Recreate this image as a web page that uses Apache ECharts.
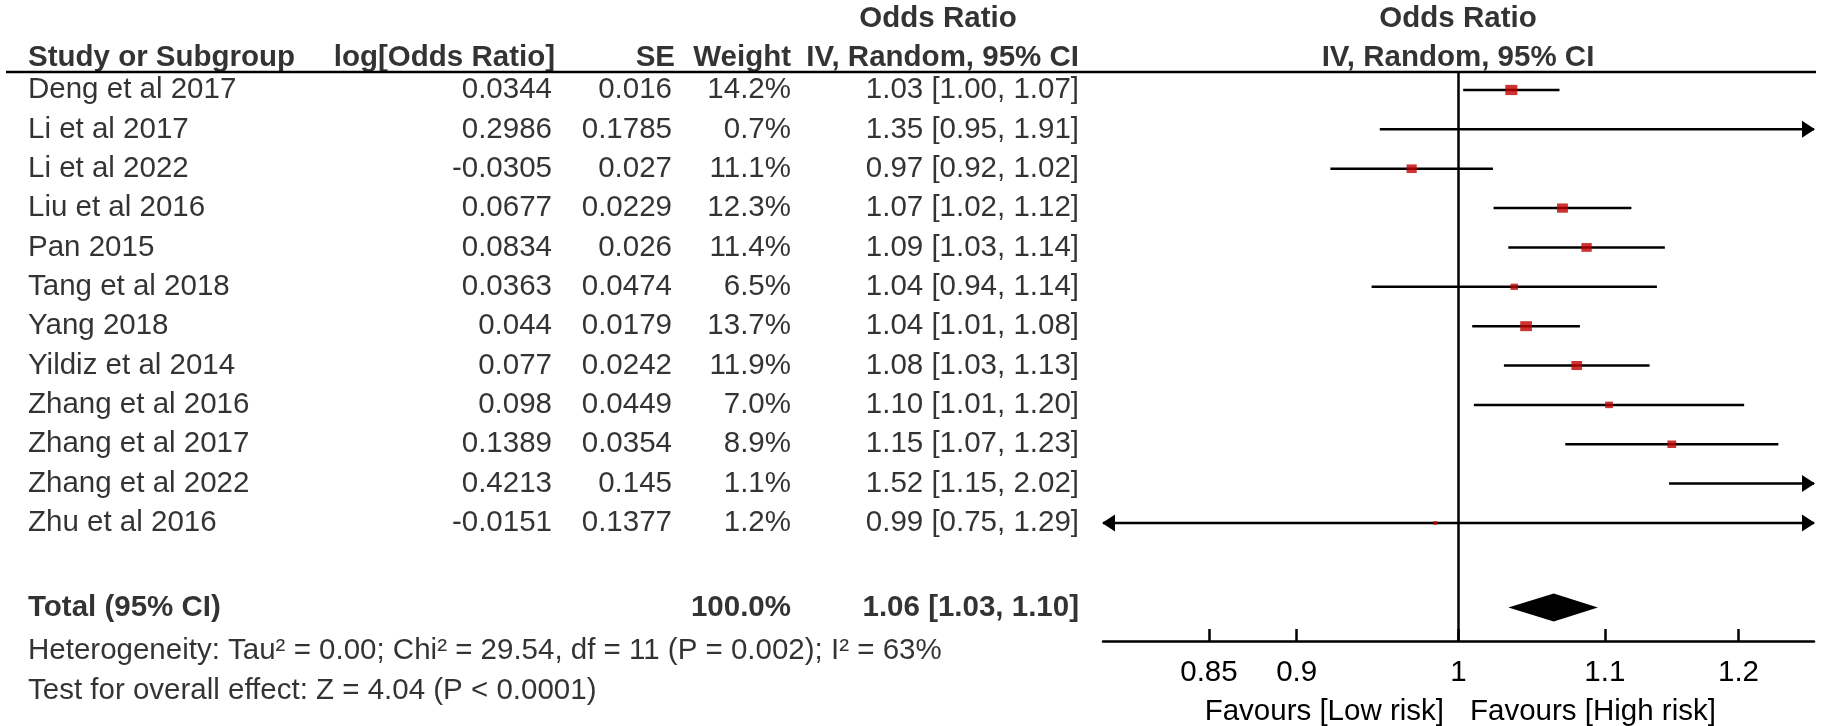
<!DOCTYPE html>
<html><head><meta charset="utf-8">
<script src="https://cdn.jsdelivr.net/npm/echarts@6/dist/echarts.min.js"></script>
<style>html,body{margin:0;padding:0;background:#fff}#c{width:1843px;height:726px}</style>
</head><body><div id="c"></div>
<script>
// ---------- data ----------
const studies = ['Deng et al 2017','Li et al 2017','Li et al 2022','Liu et al 2016','Pan 2015','Tang et al 2018','Yang 2018','Yildiz et al 2014','Zhang et al 2016','Zhang et al 2017','Zhang et al 2022','Zhu et al 2016'];
const logOR = [0.0344, 0.2986, -0.0305, 0.0677, 0.0834, 0.0363, 0.044, 0.077, 0.098, 0.1389, 0.4213, -0.0151];
const se = [0.016, 0.1785, 0.027, 0.0229, 0.026, 0.0474, 0.0179, 0.0242, 0.0449, 0.0354, 0.145, 0.1377];
const weights = [14.2, 0.7, 11.1, 12.3, 11.4, 6.5, 13.7, 11.9, 7.0, 8.9, 1.1, 1.2];
const ciText = ['1.03 [1.00, 1.07]','1.35 [0.95, 1.91]','0.97 [0.92, 1.02]','1.07 [1.02, 1.12]','1.09 [1.03, 1.14]','1.04 [0.94, 1.14]','1.04 [1.01, 1.08]','1.08 [1.03, 1.13]','1.10 [1.01, 1.20]','1.15 [1.07, 1.23]','1.52 [1.15, 2.02]','0.99 [0.75, 1.29]'];
const totalLabel = 'Total (95% CI)';
const totalWeightText = '100.0%';
const totalText = '1.06 [1.03, 1.10]';
const totalOR = 1.064, totalLow = 1.033, totalHigh = 1.095;
const tickValues = [0.85, 0.9, 1, 1.1, 1.2];
const tickLabels = ['0.85', '0.9', '1', '1.1', '1.2'];
const heterogeneityText = 'Heterogeneity: Tau\u00B2 = 0.00; Chi\u00B2 = 29.54, df = 11 (P = 0.002); I\u00B2 = 63%';
const overallText = 'Test for overall effect: Z = 4.04 (P < 0.0001)';
const favoursLeft = 'Favours [Low risk]';
const favoursRight = 'Favours [High risk]';

// ---------- layout ----------
const W = 1843, H = 726;
const ROW0 = 90, ROWH = 39.36;
const YMIN = -0.457, YMAX = 14;
const gridTop = ROW0 + YMIN * ROWH;
const gridBottom = H - (ROW0 + YMAX * ROWH);
const LNMIN = -0.2315, LNMAX = 0.2315;
const PLOT_LEFT = 1103, PLOT_RIGHT = 1814;
const FONT = '"Liberation Sans", Arial, sans-serif';
const FS = 29.5;
const LW = 2.5;
const TOTAL_ROW = 13.15, HET_ROW = 14.26, TEST_ROW = 15.26, HEAD1 = -1.81, HEAD2 = -0.82;
const COL = {name: 28, lor: 552, se: 672, w: 791, ci: 1079, orHead: 938, plotHead: 1458};

function textSeries(items, bold) {
  return {
    type: 'scatter', xAxisIndex: 0, yAxisIndex: 0, clip: false, silent: true,
    symbolSize: 0.001, itemStyle: {color: 'transparent'},
    data: items.map(it => ({value: [it[0], it[1]], label: {align: it[3]}, name: it[2]})),
    label: {show: true, position: [0, 0], verticalAlign: 'middle', color: '#000',
      fontFamily: FONT, fontSize: FS, fontWeight: bold ? 'bold' : 'normal',
      formatter: p => p.name},
    z: 5
  };
}

const normalItems = [], boldItems = [];
studies.forEach((s, i) => {
  normalItems.push([COL.name, i, s, 'left']);
  normalItems.push([COL.lor, i, String(logOR[i]), 'right']);
  normalItems.push([COL.se, i, String(se[i]), 'right']);
  normalItems.push([COL.w, i, weights[i].toFixed(1) + '%', 'right']);
  normalItems.push([COL.ci, i, ciText[i], 'right']);
});
normalItems.push([COL.name, HET_ROW, heterogeneityText, 'left']);
normalItems.push([COL.name, TEST_ROW, overallText, 'left']);
boldItems.push([COL.name, TOTAL_ROW, totalLabel, 'left']);
boldItems.push([COL.w, TOTAL_ROW, totalWeightText, 'right']);
boldItems.push([COL.ci, TOTAL_ROW, totalText, 'right']);
boldItems.push([COL.orHead, HEAD1, 'Odds Ratio', 'center']);
boldItems.push([COL.plotHead, HEAD1, 'Odds Ratio', 'center']);
boldItems.push([COL.name, HEAD2, 'Study or Subgroup', 'left']);
boldItems.push([COL.lor + 3, HEAD2, 'log[Odds Ratio]', 'right']);
boldItems.push([COL.se + 3, HEAD2, 'SE', 'right']);
boldItems.push([COL.w, HEAD2, 'Weight', 'right']);
boldItems.push([COL.ci, HEAD2, 'IV, Random, 95% CI', 'right']);
boldItems.push([COL.plotHead, HEAD2, 'IV, Random, 95% CI', 'center']);

const ciData = studies.map((s, i) => [i, logOR[i] - 1.96 * se[i], logOR[i] + 1.96 * se[i]]);
const pointData = studies.map((s, i) => [logOR[i], i, weights[i]]);

function renderCI(params, api) {
  const y = api.value(0), lo = api.value(1), hi = api.value(2);
  const a = api.coord([Math.max(lo, LNMIN), y]);
  const b = api.coord([Math.min(hi, LNMAX), y]);
  const st = {stroke: '#000', lineWidth: LW};
  const ch = [{type: 'line', shape: {x1: a[0], y1: a[1], x2: b[0], y2: b[1]}, style: st}];
  if (hi > LNMAX) ch.push({type: 'polygon', shape: {points: [[b[0] + 1, b[1]], [b[0] - 12, b[1] - 8.5], [b[0] - 12, b[1] + 8.5]]}, style: {fill: '#000'}});
  if (lo < LNMIN) ch.push({type: 'polygon', shape: {points: [[a[0] - 1, a[1]], [a[0] + 12, a[1] - 8.5], [a[0] + 12, a[1] + 8.5]]}, style: {fill: '#000'}});
  return {type: 'group', children: ch};
}
function renderDiamond(params, api) {
  const c = api.coord([api.value(0), api.value(3)]);
  const l = api.coord([api.value(1), api.value(3)]);
  const r = api.coord([api.value(2), api.value(3)]);
  const h = 14;
  return {type: 'polygon', shape: {points: [[l[0], l[1]], [c[0], c[1] - h], [r[0], r[1]], [c[0], c[1] + h]]}, style: {fill: '#000'}};
}

const chart = echarts.init(document.getElementById('c'), null, {renderer: 'canvas'});
const tickLn = tickValues.map(v => Math.log(v));
chart.setOption({
  animation: false,
  backgroundColor: '#fff',
  grid: [
    {left: 0, right: 0, top: gridTop, bottom: gridBottom},
    {left: PLOT_LEFT, right: W - PLOT_RIGHT, top: gridTop, bottom: gridBottom}
  ],
  xAxis: [
    {gridIndex: 0, type: 'value', min: 0, max: W, show: false},
    {gridIndex: 1, type: 'value', min: LNMIN, max: LNMAX,
      axisLine: {show: true, onZero: false, lineStyle: {color: '#000', width: LW}},
      axisTick: {show: true, inside: true, length: 12, customValues: tickLn, lineStyle: {color: '#000', width: LW}},
      axisLabel: {show: true, customValues: tickLn, margin: 17, color: '#000', fontFamily: FONT, fontSize: FS,
        formatter: v => { const k = tickLn.findIndex(t => Math.abs(t - v) < 1e-6); return k >= 0 ? tickLabels[k] : ''; }},
      splitLine: {show: false}}
  ],
  yAxis: [
    {gridIndex: 0, type: 'value', min: YMIN, max: YMAX, inverse: true, show: false},
    {gridIndex: 1, type: 'value', min: YMIN, max: YMAX, inverse: true, show: false}
  ],
  graphic: [
    {type: 'line', shape: {x1: 6, y1: gridTop, x2: 1816, y2: gridTop}, style: {stroke: '#000', lineWidth: LW}, z: 10},
    {type: 'text', x: 1444, y: 712, style: {text: favoursLeft, align: 'right', verticalAlign: 'middle', fill: '#000', font: FS + 'px ' + FONT}},
    {type: 'text', x: 1470, y: 712, style: {text: favoursRight, align: 'left', verticalAlign: 'middle', fill: '#000', font: FS + 'px ' + FONT}}
  ],
  series: [
    textSeries(normalItems, false),
    textSeries(boldItems, true),
    {type: 'custom', xAxisIndex: 1, yAxisIndex: 1, renderItem: renderCI, data: ciData,
      encode: {x: [1, 2], y: 0}, silent: true, z: 2,
      markLine: {silent: true, symbol: 'none', label: {show: false}, lineStyle: {color: '#000', width: LW, type: 'solid'},
        data: [{xAxis: 0}]}},
    {type: 'scatter', xAxisIndex: 1, yAxisIndex: 1, data: pointData, symbol: 'rect', clip: true, silent: true, z: 3,
      symbolSize: v => { const s = 3.5 + 0.6 * v[2]; return [s, s * 0.85]; },
      itemStyle: {color: '#c00000'}},
    {type: 'custom', xAxisIndex: 1, yAxisIndex: 1, renderItem: renderDiamond, silent: true, z: 3,
      data: [[Math.log(totalOR), Math.log(totalLow), Math.log(totalHigh), TOTAL_ROW]], encode: {x: [0, 1, 2], y: 3}}
  ]
});
</script></body></html>
